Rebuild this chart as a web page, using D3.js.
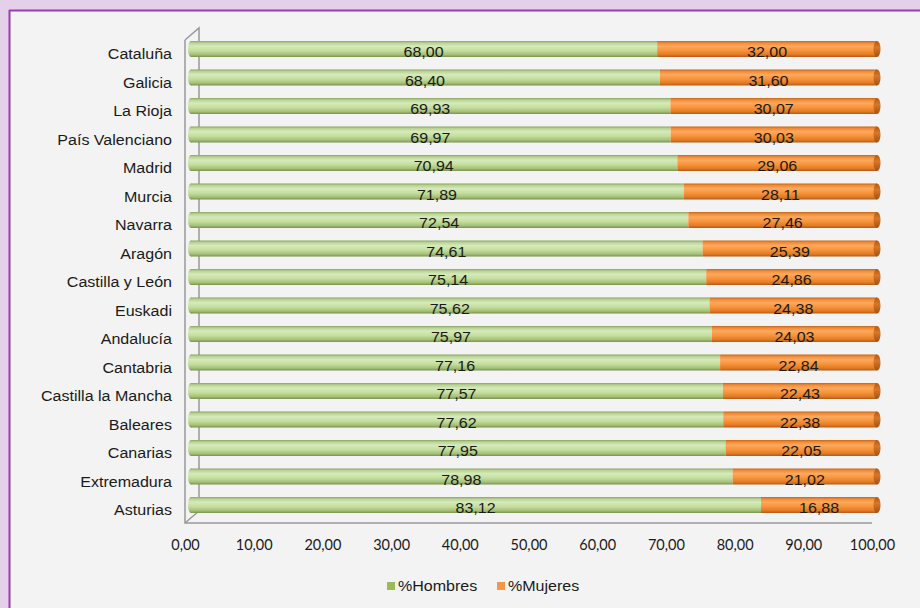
<!DOCTYPE html>
<html>
<head>
<meta charset="utf-8">
<script src="https://cdn.jsdelivr.net/npm/d3@7"></script>
<style>
  html, body { margin: 0; padding: 0; background: #e6d2ea; }
  svg { display: block; }
</style>
</head>
<body>
<svg id="chart" width="920" height="608"></svg>
<script>
const categories = ["Cataluña","Galicia","La Rioja","País Valenciano","Madrid","Murcia","Navarra","Aragón","Castilla y León","Euskadi","Andalucía","Cantabria","Castilla la Mancha","Baleares","Canarias","Extremadura","Asturias"];
const hombres = [68.00,68.40,69.93,69.97,70.94,71.89,72.54,74.61,75.14,75.62,75.97,77.16,77.57,77.62,77.95,78.98,83.12];
const mujeres = [32.00,31.60,30.07,30.03,29.06,28.11,27.46,25.39,24.86,24.38,24.03,22.84,22.43,22.38,22.05,21.02,16.88];
const tickValues = [0,10,20,30,40,50,60,70,80,90,100];
const seriesNames = ["%Hombres","%Mujeres"];

const svg = d3.select("#chart");
const fmt = v => d3.format(".2f")(v).replace(".", ",");
const SX = 1.07;
const FONT = "Liberation Sans, Arial, sans-serif";

// frame
svg.append("rect").attr("x",0).attr("y",0).attr("width",920).attr("height",608).attr("fill","#e5d0e9");
svg.append("rect").attr("x",10).attr("y",11).attr("width",920).attr("height",608).attr("fill","#f3f3f3");
svg.append("line").attr("x1",9.5).attr("x2",9.5).attr("y1",10).attr("y2",608).attr("stroke","#9b3db0").attr("stroke-width",2);
svg.append("line").attr("x1",9).attr("x2",920).attr("y1",10.5).attr("y2",10.5).attr("stroke","#9b3db0").attr("stroke-width",2);

const defs = svg.append("defs");
function grad(id, stops) {
  const g = defs.append("linearGradient").attr("id", id).attr("x1",0).attr("y1",0).attr("x2",0).attr("y2",1);
  stops.forEach(s => g.append("stop").attr("offset", s[0]).attr("stop-color", s[1]));
}
grad("gGreen", [[0,"#8aa35f"],[0.12,"#b9d293"],[0.32,"#d6eabc"],[0.6,"#c4de9e"],[0.85,"#a5c077"],[1,"#78914d"]]);
grad("gOrange", [[0,"#c46516"],[0.12,"#ef8b37"],[0.32,"#fca95e"],[0.6,"#f7933b"],[0.85,"#e17a24"],[1,"#b35a12"]]);
grad("gCap", [[0,"#b35a12"],[0.4,"#dc7624"],[1,"#a4520f"]]);

const x = d3.scaleLinear().domain([0,100]).range([185,872]);
const y = d3.scaleBand().domain(categories).range([39.75,524.25]);
const dx = 5, dy = -5, barH = 16;
const xb = v => x(v) + dx;
const yc = c => y(c) + y.bandwidth()/2;

function stext(sel, tx, ty, anchor, size, str) {
  return sel.append("text")
    .attr("transform", `translate(${tx},${ty}) scale(${SX},1)`)
    .attr("text-anchor", anchor)
    .attr("font-family", FONT).attr("font-size", size).attr("fill", "#1a1a1a")
    .text(str);
}

// walls
const wall = svg.append("g").attr("stroke","#999").attr("stroke-width",1.5).attr("fill","none");
const fTop = 40, fBot = 523, back = 14, up = 12;
wall.append("path").attr("d", `M${x(0)},${fTop} L${x(0)},${fBot} L${x(100)},${fBot}`);
wall.append("path").attr("d", `M${x(0)},${fTop} L${x(0)+back},${fTop-up} L${x(0)+back},${fBot-up} L${x(0)},${fBot}`);

// bars
const rows = categories.map((c,i) => ({c, h: hombres[i], m: mujeres[i]}));
const bars = svg.append("g");
rows.forEach(r => {
  const cy = yc(r.c) + dy;
  const g = bars.append("g");
  g.append("ellipse").attr("cx", xb(0)+1).attr("cy", cy).attr("rx", 3).attr("ry", barH/2).attr("fill","url(#gGreen)");
  g.append("rect").attr("x", xb(0)+1).attr("y", cy-barH/2).attr("width", xb(r.h)-xb(0)-1).attr("height", barH).attr("fill","url(#gGreen)");
  g.append("rect").attr("x", xb(r.h)).attr("y", cy-barH/2).attr("width", xb(r.h + r.m)-xb(r.h)).attr("height", barH).attr("fill","url(#gOrange)");
  g.append("ellipse").attr("cx", xb(r.h + r.m)).attr("cy", cy).attr("rx", 3.5).attr("ry", barH/2).attr("fill","url(#gCap)");
  stext(g, (xb(0)+xb(r.h))/2, cy+8, "middle", 15, fmt(r.h));
  stext(g, (xb(r.h)+xb(r.h+r.m))/2, cy+8, "middle", 15, fmt(r.m));
});

// category labels
const cl = svg.append("g");
categories.forEach(c => stext(cl, 172, yc(c) + 5, "end", 15, c));

// x axis
const axis = d3.axisBottom(x).tickValues(tickValues).tickSize(0).tickPadding(17).tickFormat(fmt);
const ax = svg.append("g").attr("transform", `translate(0,${fBot})`).call(axis);
ax.select(".domain").remove();
ax.selectAll("text").attr("font-family","Lato, sans-serif").attr("font-size",14.5).attr("fill","#1a1a1a");

// legend
const leg = svg.append("g");
const legColors = ["#9bbb59","#f79646"];
const legX = [387, 497];
seriesNames.forEach((s,i) => {
  leg.append("rect").attr("x", legX[i]).attr("y", 582).attr("width", 8).attr("height", 8).attr("fill", legColors[i]);
  stext(leg, legX[i]+11, 591, "start", 15, s);
});
</script>
</body>
</html>
